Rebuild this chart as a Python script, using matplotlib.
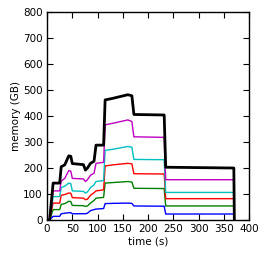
import matplotlib
matplotlib.use("Agg")
import matplotlib.pyplot as plt

time_s = [0, 5, 12, 25, 28, 35, 43, 47, 50, 72, 76, 80, 86, 93, 97, 112, 115, 130, 160, 168, 172, 232, 235, 370, 371]
mem_max     = [0, 0, 142, 142, 205, 212, 247, 245, 217, 213, 192, 200, 218, 226, 288, 288, 462, 468, 482, 478, 406, 404, 203, 200, 0]
mem_magenta = [0, 0, 112, 112, 150, 160, 190, 188, 160, 158, 148, 155, 172, 180, 218, 222, 366, 372, 385, 379, 320, 318, 155, 155, 0]
mem_cyan    = [0, 0, 90, 90, 125, 130, 142, 140, 112, 110, 104, 108, 125, 135, 148, 152, 268, 272, 283, 280, 233, 232, 106, 106, 0]
mem_red     = [0, 0, 65, 65, 95, 98, 104, 103, 86, 84, 78, 80, 95, 105, 112, 116, 208, 212, 218, 216, 178, 177, 82, 82, 0]
mem_green   = [0, 0, 40, 40, 60, 63, 72, 71, 56, 55, 52, 54, 65, 75, 84, 87, 142, 144, 148, 146, 122, 121, 54, 54, 0]
mem_blue    = [0, 0, 14, 14, 24, 26, 28, 28, 24, 24, 24, 26, 36, 40, 42, 44, 63, 64, 65, 64, 54, 53, 23, 23, 0]

xticks = [0, 50, 100, 150, 200, 250, 300, 350, 400]
yticks = [0, 100, 200, 300, 400, 500, 600, 700, 800]

plt.rcParams['font.family'] = ['DejaVu Sans']
fig = plt.figure(figsize=(2.66, 2.57), dpi=100)
ax = fig.add_axes([0.177, 0.144, 0.759, 0.809])

series = [(mem_blue, (0, 0, 1)), (mem_green, (0, 0.5, 0)), (mem_red, (1, 0, 0)),
          (mem_cyan, (0, 0.75, 0.75)), (mem_magenta, (0.75, 0, 0.75))]
for vals, col in series:
    ax.plot(time_s, vals, color=col, lw=1.0)
ax.plot(time_s, mem_max, color='k', lw=2.0)

ax.set_xlim(0, 400)
ax.set_ylim(0, 800)
ax.set_xticks(xticks)
ax.set_yticks(yticks)
ax.tick_params(direction='in', top=True, right=True, length=4, width=0.8, labelsize=7.5, pad=3)
ax.set_xlabel('time (s)', fontsize=7.5, labelpad=2)
ax.set_ylabel('memory (GB)', fontsize=7.5, labelpad=2)
for s in ax.spines.values():
    s.set_linewidth(1.0)

fig.savefig('out.png', dpi=100)
